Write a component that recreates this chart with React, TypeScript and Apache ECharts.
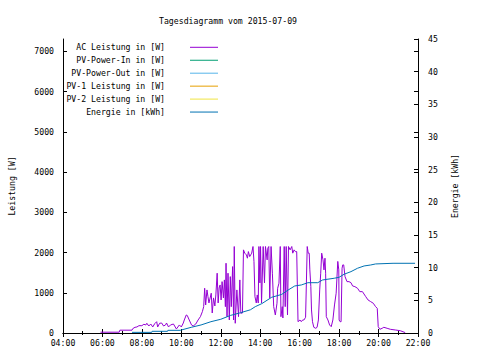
import { useEffect, useRef } from "react";
import * as echarts from "echarts";

const chartTitle = "Tagesdiagramm vom 2015-07-09";
const leftAxisName = "Leistung [W]";
const rightAxisName = "Energie [kWh]";

const seriesNames = [
  "AC Leistung in [W]",
  "PV-Power-In in [W]",
  "PV-Power-Out in [W]",
  "PV-1 Leistung in [W]",
  "PV-2 Leistung in [W]",
  "Energie in [kWh]",
];
const seriesColors = ["#9400d3", "#009e73", "#56b4e9", "#e69f00", "#f0e442", "#0072b2"];

const acTimes = [
  "05:54", "06:51", "06:53", "07:30", "07:32", "07:39", "07:45", "07:51", "08:00", "08:06",
  "08:12", "08:15", "08:21", "08:27", "08:33", "08:39", "08:45", "08:48", "08:54", "09:00",
  "09:06", "09:12", "09:15", "09:21", "09:27", "09:36", "09:45", "09:54", "10:00", "10:06",
  "10:09", "10:15", "10:18", "10:24", "10:31", "10:36", "10:44", "10:51", "10:58", "11:04",
  "11:08", "11:11", "11:14", "11:18", "11:21", "11:24", "11:31", "11:34", "11:38", "11:42",
  "11:45", "11:49", "11:52", "11:55", "11:58", "12:01", "12:04", "12:08", "12:11", "12:14",
  "12:16", "12:19", "12:22", "12:26", "12:29", "12:32", "12:36", "12:39", "12:41", "12:44",
  "12:49", "12:54", "12:58", "13:01", "13:06", "13:09", "13:13", "13:18", "13:21", "13:24",
  "13:28", "13:31", "13:34", "13:38", "13:41", "13:44", "13:48", "13:51", "13:54", "13:56",
  "13:59", "14:01", "14:04", "14:09", "14:13", "14:16", "14:21", "14:23", "14:26", "14:29",
  "14:33", "14:37", "14:41", "14:46", "14:51", "14:53", "14:57", "15:01", "15:03", "15:07",
  "15:09", "15:13", "15:16", "15:19", "15:23", "15:26", "15:31", "15:36", "15:39", "15:43",
  "15:47", "15:51", "15:55", "16:01", "16:05", "16:09", "16:13", "16:18", "16:23", "16:26",
  "16:29", "16:31", "16:34", "16:36", "16:39", "16:43", "16:49", "16:53", "16:57", "17:01",
  "17:04", "17:07", "17:11", "17:14", "17:17", "17:19", "17:21", "17:26", "17:31", "17:36",
  "17:41", "17:46", "17:51", "17:56", "17:59", "18:00", "18:03", "18:06", "18:09", "18:11",
  "18:14", "18:18", "18:24", "18:30", "18:36", "18:41", "18:48", "18:56", "19:03", "19:11",
  "19:21", "19:28", "19:36", "19:44", "19:51", "19:56", "19:59", "20:04", "20:11", "20:16",
  "20:26", "20:36", "20:51", "21:06", "21:21",
];
const acValues = [
  20, 20, 70, 70, 107, 142, 150, 182, 182, 217,
  200, 242, 174, 224, 150, 232, 281, 150, 242, 249,
  174, 200, 249, 150, 200, 224, 100, 200, 150, 249,
  324, 448, 436, 324, 200, 174, 224, 324, 406, 530,
  655, 1113, 697, 1071, 904, 747, 989, 498, 872, 672,
  946, 1487, 747, 1120, 1195, 822, 1277, 872, 1320, 655,
  1735, 406, 1487, 324, 1402, 655, 1651, 324, 2150, 242,
  1071, 406, 1320, 490, 498, 2067, 1985, 1942, 1860, 2024,
  1900, 1942, 1985, 2150, 1775, 904, 747, 946, 747, 2150,
  1245, 2150, 747, 2150, 1245, 2150, 1818, 2109, 2150, 872,
  2150, 1487, 655, 448, 740, 1113, 1238, 2150, 406, 655,
  374, 2150, 655, 2150, 448, 2150, 2067, 2150, 1985, 2067,
  2024, 2024, 281, 324, 281, 324, 324, 391, 2150, 1985,
  1985, 1569, 1153, 573, 281, 142, 117, 142, 324, 1071,
  1487, 1985, 1818, 1569, 1860, 1487, 406, 324, 200, 157,
  324, 697, 989, 1780, 1569, 324, 281, 281, 1611, 1693,
  1693, 1402, 1277, 1277, 1252, 1170, 1153, 1113, 1028, 1028,
  904, 822, 780, 740, 655, 614, 157, 92, 117, 142,
  117, 92, 75, 57, 10,
];

const energyTimes = [
  "07:30", "08:30", "08:31", "09:18", "09:19", "09:57", "10:00", "10:30", "11:00", "11:30",
  "12:00", "12:30", "13:00", "13:30", "13:45", "14:05", "14:35", "15:05", "15:25", "15:45",
  "16:05", "16:25", "16:55", "17:10", "17:45", "18:00", "18:15", "18:36", "18:56", "19:16",
  "19:36", "19:51", "20:44", "21:51",
];
const energyValues = [
  0.1, 0.1, 0.26, 0.26, 0.41, 0.41, 0.46, 0.87, 1.23, 1.73,
  2.1, 2.7, 3.1, 3.55, 4.03, 4.5, 5.47, 5.9, 6.58, 7.2,
  7.35, 7.7, 7.7, 8.12, 8.38, 8.53, 8.99, 9.39, 9.91, 10.26,
  10.41, 10.57, 10.67, 10.67,
];

const pvInValues: number[] = [];
const pvOutValues: number[] = [];
const pv1Values: number[] = [];
const pv2Values: number[] = [];

const toHours = (t: string) => {
  const [h, m] = t.split(":").map(Number);
  return h + m / 60;
};
const pair = (times: string[], vals: number[]) => times.map((t, i) => [toHours(t), vals[i]]);

const FONT = "DejaVu Sans Mono";
const FS = 8.2;

export default function App() {
  const ref = useRef<HTMLDivElement>(null);
  useEffect(() => {
    if (!ref.current) return;
    const chart = echarts.init(ref.current, undefined, { renderer: "svg" });
    const tickStyle = { show: true, inside: true, length: 4, lineStyle: { color: "#000", width: 1 } };
    const minorStyle = { show: true, splitNumber: 2, length: 2, lineStyle: { color: "#000", width: 1 } };
    const labelStyle = { color: "#000", fontFamily: FONT, fontSize: FS };
    const legendX = 165;
    const legendTop = 47.3;
    const legendStep = 12.95;
    const graphic: any[] = [];
    seriesNames.forEach((n, i) => {
      const y = legendTop + i * legendStep;
      graphic.push({
        type: "text",
        x: legendX,
        y,
        style: { text: n, fill: "#000", font: `${FS}px "${FONT}"`, textAlign: "right", textVerticalAlign: "middle" },
      });
      graphic.push({
        type: "line",
        shape: { x1: 190, y1: y, x2: 218, y2: y },
        style: { stroke: seriesColors[i], lineWidth: 1 },
      });
    });
    const fmt = (v: number) => String(v).padStart(2, "0") + ":00";
    const plain = (v: number) => String(v);
    chart.setOption({
      animation: false,
      backgroundColor: "#fff",
      title: {
        text: chartTitle,
        left: 154,
        top: 12,
        textStyle: { color: "#000", fontFamily: FONT, fontSize: FS, fontWeight: "normal" },
      },
      graphic,
      grid: { left: 58, right: 62, top: 39, bottom: 27, containLabel: false },
      xAxis: [
        {
          type: "value",
          position: "bottom",
          min: 4,
          max: 22,
          interval: 2,
          axisLine: { show: true, lineStyle: { color: "#000", width: 1 } },
          axisTick: tickStyle,
          minorTick: minorStyle,
          splitLine: { show: false },
          axisLabel: { ...labelStyle, margin: 6, formatter: fmt },
        },
        {
          type: "value",
          position: "top",
          min: 4,
          max: 22,
          interval: 2,
          axisLine: { show: true, lineStyle: { color: "#000", width: 1 } },
          axisTick: tickStyle,
          minorTick: minorStyle,
          splitLine: { show: false },
          axisLabel: { show: false },
        },
      ],
      yAxis: [
        {
          type: "value",
          position: "left",
          min: 0,
          max: 7310,
          interval: 1000,
          name: leftAxisName,
          nameLocation: "middle",
          nameGap: 47,
          nameRotate: 90,
          nameTextStyle: { color: "#000", fontFamily: FONT, fontSize: FS },
          axisLine: { show: true, lineStyle: { color: "#000", width: 1 } },
          axisTick: tickStyle,
          splitLine: { show: false },
          axisLabel: { ...labelStyle, margin: 9, showMaxLabel: false, formatter: plain },
        },
        {
          type: "value",
          position: "right",
          min: 0,
          max: 45,
          interval: 5,
          name: rightAxisName,
          nameLocation: "middle",
          nameGap: 33,
          nameRotate: 90,
          nameTextStyle: { color: "#000", fontFamily: FONT, fontSize: FS },
          axisLine: { show: true, lineStyle: { color: "#000", width: 1 } },
          axisTick: tickStyle,
          splitLine: { show: false },
          axisLabel: { ...labelStyle, margin: 10, align: "left", formatter: plain },
        },
        {
          type: "value",
          position: "right",
          min: 0,
          max: 7310,
          interval: 1000,
          axisLine: { show: false },
          axisTick: tickStyle,
          splitLine: { show: false },
          axisLabel: { show: false },
        },
      ],
      series: [
        {
          name: seriesNames[0],
          type: "line",
          xAxisIndex: 0,
          yAxisIndex: 0,
          data: pair(acTimes, acValues),
          showSymbol: false,
          lineStyle: { color: seriesColors[0], width: 1 },
          itemStyle: { color: seriesColors[0] },
        },
        { name: seriesNames[1], type: "line", yAxisIndex: 0, data: pvInValues, showSymbol: false, lineStyle: { color: seriesColors[1], width: 1 } },
        { name: seriesNames[2], type: "line", yAxisIndex: 0, data: pvOutValues, showSymbol: false, lineStyle: { color: seriesColors[2], width: 1 } },
        { name: seriesNames[3], type: "line", yAxisIndex: 0, data: pv1Values, showSymbol: false, lineStyle: { color: seriesColors[3], width: 1 } },
        { name: seriesNames[4], type: "line", yAxisIndex: 0, data: pv2Values, showSymbol: false, lineStyle: { color: seriesColors[4], width: 1 } },
        {
          name: seriesNames[5],
          type: "line",
          xAxisIndex: 0,
          yAxisIndex: 1,
          data: pair(energyTimes, energyValues),
          showSymbol: false,
          lineStyle: { color: seriesColors[5], width: 1 },
          itemStyle: { color: seriesColors[5] },
        },
      ],
    });
    return () => chart.dispose();
  }, []);
  return <div ref={ref} style={{ width: 480, height: 360, position: "absolute", left: 0, top: 0 }} />;
}
